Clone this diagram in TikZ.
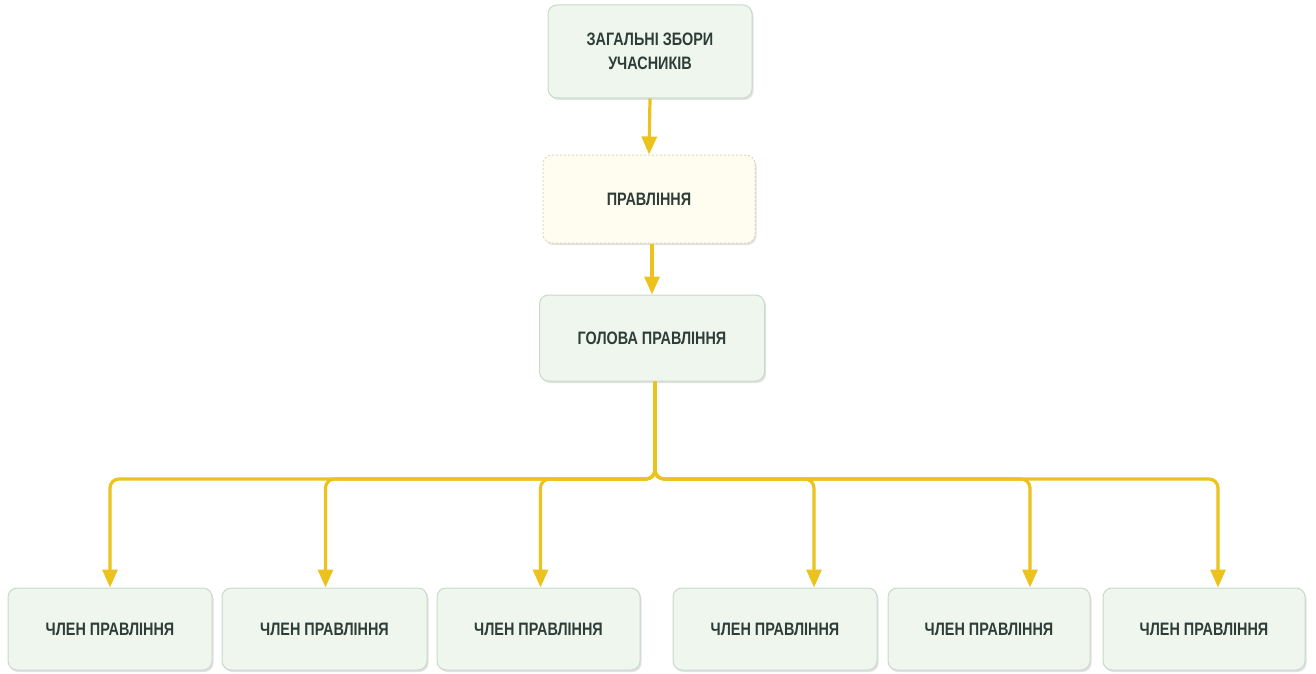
\documentclass[tikz,border=0pt]{standalone}
\usepackage{fontspec}
\setmainfont{Liberation Sans}[FakeStretch=0.8]
\usetikzlibrary{arrows.meta,shadows,calc}
\definecolor{boxfill}{HTML}{EEF6EE}
\definecolor{boxline}{HTML}{C9D9CB}
\definecolor{creamfill}{HTML}{FEFDEF}
\definecolor{creamline}{HTML}{DADAB8}
\definecolor{txt}{HTML}{2F3D38}
\definecolor{gold}{HTML}{EBC21E}
\tikzset{
  box/.style={draw=boxline, line width=1pt, fill=boxfill, rounded corners=9pt,
    align=center, text=txt, font=\fontsize{18}{24}\selectfont\bfseries,
    drop shadow={shadow xshift=1.5pt, shadow yshift=-2pt, fill=black!25, opacity=.45}},
  dbox/.style={box, draw=creamline, fill=creamfill, dashed, dash pattern=on 2pt off 2pt},
  conn/.style={draw=gold, line width=3.2pt, rounded corners=9pt,
    -{Triangle[width=15pt,length=18pt]}, shorten >=0pt},
}
\begin{document}
\begin{tikzpicture}[x=1pt,y=-1pt]
\useasboundingbox (0,0) rectangle (1316,674);
\node[box, minimum width=204pt, minimum height=93pt] (zz) at (650,51.5) {ЗАГАЛЬНІ ЗБОРИ\\УЧАСНИКІВ};
\node[dbox, minimum width=212pt, minimum height=88pt] (pr) at (649,199) {ПРАВЛІННЯ};
\node[box, minimum width=225pt, minimum height=86pt] (gp) at (652,338) {ГОЛОВА ПРАВЛІННЯ};
\foreach \i/\a/\b in {1/8/212, 2/222/427, 3/437/640, 4/673/877, 5/888/1090, 6/1103/1305}{
  \node[box, minimum width={\b-\a}, minimum height=82pt] (m\i) at ({(\a+\b)/2},629) {ЧЛЕН ПРАВЛІННЯ};
}
\coordinate (hub) at (655,479);
\path (m1.north) ++(0,0) coordinate (t1);
\path (m2.north) ++(1,0) coordinate (t2);
\path (m3.north) ++(2,0) coordinate (t3);
\path (m4.north) ++(39,0) coordinate (t4);
\path (m5.north) ++(41,0) coordinate (t5);
\path (m6.north) ++(14,0) coordinate (t6);
\draw[conn] (zz.south) -- (pr.north);
\draw[conn] ($(pr.south)+(3,0)$) -- ($(gp.north)$);
\foreach \i in {1,...,6}{
  \draw[conn] (gp.south -| hub) -- (hub) -| (t\i);
}
\end{tikzpicture}
\end{document}
